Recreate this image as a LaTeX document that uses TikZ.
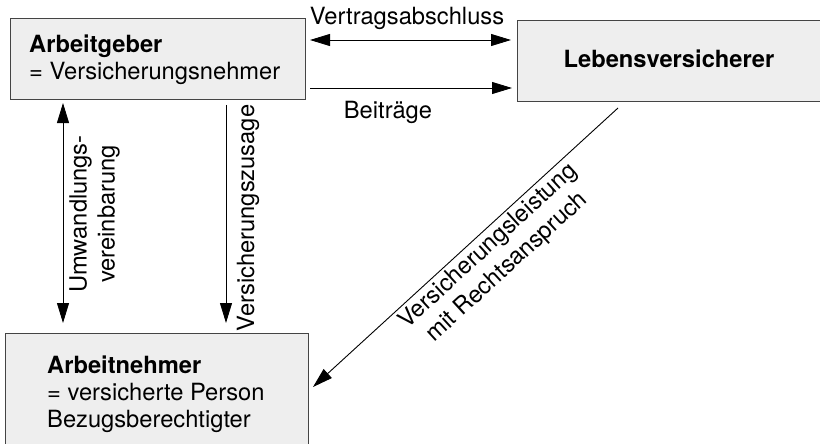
\documentclass[tikz,border=0pt]{standalone}
\usepackage{fontspec}
\setmainfont{TeX Gyre Heros}
\usetikzlibrary{arrows.meta}
\definecolor{boxfill}{HTML}{EEEEEE}
\definecolor{boxline}{HTML}{444444}
\begin{document}
\begin{tikzpicture}[x=1pt,y=-1pt,
  box/.style={draw=boxline, fill=boxfill, line width=1.1pt, rectangle, anchor=north west, inner sep=0pt},
  lbl/.style={font=\fontsize{23.7}{28}\selectfont, inner sep=0pt},
  conn/.style={line width=0.9pt, -{Triangle[length=20pt,width=12pt]}},
  conn2/.style={line width=0.9pt, {Triangle[length=20pt,width=12pt]}-{Triangle[length=20pt,width=12pt]}}]
\useasboundingbox (0,0) rectangle (820,444);
\clip (0,0) rectangle (820,444);
\fill[white] (0,0) rectangle (820,444);
% boxes
\node[box, minimum width=295pt, minimum height=81pt] (ag) at (9.5,18) {};
\node[box, minimum width=320pt, minimum height=81pt] (lv) at (517,20) {};
\node[box, minimum width=303pt, minimum height=120pt] (an) at (5,333) {};
% box texts
\node[lbl, anchor=base west] (agt1) at (29,53) {\bfseries Arbeitgeber};
\node[lbl, anchor=base west] (agt2) at (29,80) {= Versicherungsnehmer};
\node[lbl, anchor=base] (lvt) at (669,68) {\bfseries Lebensversicherer};
\node[lbl, anchor=base west] (ant1) at (47,373) {\bfseries Arbeitnehmer};
\node[lbl, anchor=base west] (ant2) at (47,400) {= versicherte Person};
\node[lbl, anchor=base west] (ant3) at (47,427) {Bezugsberechtigter};
% connector end points
\coordinate (va1) at (310,40);
\coordinate (va2) at (511,40);
\coordinate (bt1) at (310,88);
\coordinate (bt2) at (512,88);
\coordinate (uv1) at (63,103);
\coordinate (uv2) at (63,323);
\coordinate (vz1) at (226,105);
\coordinate (vz2) at (226,323);
\coordinate (vl1) at (618,108);
\coordinate (vl2) at (313,387);
% connectors
\draw[conn2] (va1) -- (va2);
\draw[conn] (bt1) -- (bt2);
\draw[conn2] (uv1) -- (uv2);
\draw[conn] (vz1) -- (vz2);
\draw[conn] (vl1) -- (vl2);
% connector labels
\node[lbl, anchor=base] (vat) at (407,25) {Vertragsabschluss};
\node[lbl, anchor=base] (btt) at (388,118) {Beiträge};
\node[lbl, rotate=90, align=center] (uvt) at (94.5,214) {Umwandlungs-\\vereinbarung};
\node[lbl, rotate=90] (vzt) at (248,218) {Versicherungszusage};
\node[lbl, rotate=42.5, align=center] (vlt) at (498,257) {Versicherungsleistung\\mit Rechtsanspruch};
\end{tikzpicture}
\end{document}
